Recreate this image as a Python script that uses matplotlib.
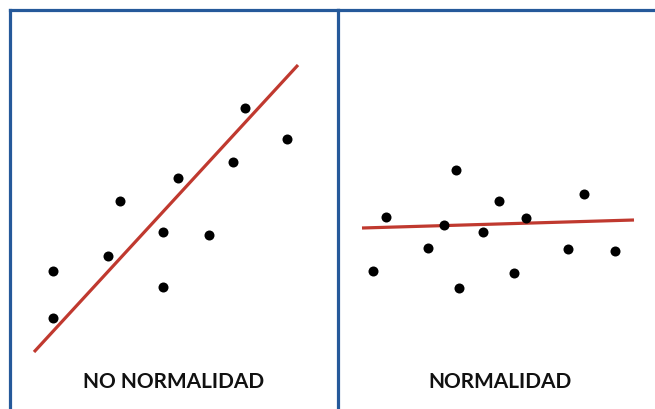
import matplotlib
matplotlib.use("Agg")
import matplotlib.pyplot as plt

# point positions (panel units)
left_x = [43, 43, 98, 110, 153, 153, 168, 199, 223, 235, 277]
left_y = [138, 91, 153, 208, 177, 122, 231, 174, 247, 301, 270]
left_line_x = [24, 288]
left_line_y = [57, 344]

right_x = [35, 48, 90, 106, 118, 121, 145, 161, 176, 188, 230, 246, 277]
right_y = [138, 192, 161, 184, 239, 121, 177, 208, 136, 191, 160, 215, 158]
right_line_x = [24, 296]
right_line_y = [181, 189]

titles = ["NO NORMALIDAD", "NORMALIDAD"]

border = "#25599A"
red = "#C0392F"

fig = plt.figure(figsize=(6.55, 4.1), dpi=100)

ax1 = fig.add_axes([10 / 655, 0, 328 / 655, 399 / 410])
ax2 = fig.add_axes([338 / 655, 0, 317 / 655, 399 / 410])
ax2.patch.set_visible(False)

panels = [
    (ax1, left_x, left_y, left_line_x, left_line_y, 328),
    (ax2, right_x, right_y, right_line_x, right_line_y, 317),
]

for i, (ax, xs, ys, lx, ly, w) in enumerate(panels):
    ax.set_xlim(0, w)
    ax.set_ylim(0, 399)
    ax.plot(lx, ly, color=red, lw=2.3, solid_capstyle="butt", zorder=2)
    ax.scatter(xs, ys, s=52, color="black", zorder=3, linewidths=0)
    ax.set_xticks([])
    ax.set_yticks([])
    for side in ["top", "left", "right", "bottom"]:
        ax.spines[side].set_color(border)
        ax.spines[side].set_linewidth(2.3)
    ax.spines["bottom"].set_visible(False)
    ax.text(w / 2 + (0 if i == 0 else 3), 28, titles[i], ha="center", va="center",
            fontsize=15, fontweight="bold", family="Lato", color="#111111")

ax2.spines["right"].set_visible(False)
ax2.spines["left"].set_visible(False)

fig.savefig("out.png", dpi=100)
